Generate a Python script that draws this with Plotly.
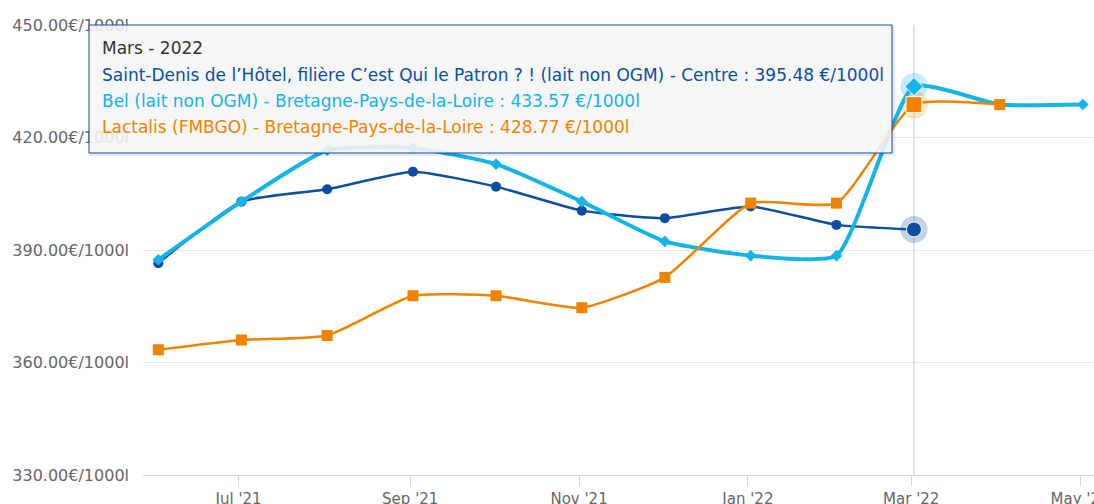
import plotly.graph_objects as go

# ---- data ----
dates = ["2021-06-02", "2021-07-02", "2021-08-02", "2021-09-02", "2021-10-02", "2021-11-02",
         "2021-12-02", "2022-01-02", "2022-02-02", "2022-03-02", "2022-04-02", "2022-05-02"]
month_labels_fr = ["Juin", "Juillet", "Août", "Septembre", "Octobre", "Novembre",
                   "Décembre", "Janvier", "Février", "Mars", "Avril", "Mai"]
years = ["2021"] * 7 + ["2022"] * 5

name_sd = "Saint-Denis de l’Hôtel, filière C’est Qui le Patron ? ! (lait non OGM) - Centre"
name_bel = "Bel (lait non OGM) - Bretagne-Pays-de-la-Loire"
name_lac = "Lactalis (FMBGO) - Bretagne-Pays-de-la-Loire"

vals_sd = [386.5, 402.9, 406.2, 410.9, 406.9, 400.5, 398.5, 401.6, 396.7, 395.48]
vals_bel = [387.4, 402.9, 416.6, 417.2, 412.9, 402.9, 392.3, 388.5, 388.5, 433.57, 428.8, 428.8]
vals_lac = [363.4, 366.0, 367.2, 377.8, 377.8, 374.6, 382.7, 402.5, 402.5, 428.77, 428.77]

y_ticks = [330, 360, 390, 420, 450]
y_ticktext = [f"{v:.2f}€/1000l" for v in y_ticks]
x_tickvals = ["2021-07-01", "2021-09-01", "2021-11-01", "2022-01-01", "2022-03-01", "2022-05-01"]
x_ticktext = ["Jul '21", "Sep '21", "Nov '21", "Jan '22", "Mar '22", "May '22"]

hover_idx = 9  # Mars 2022

# ---- style ----
C_SD = "#0b4ea2"
C_BEL = "#12b4ea"
C_LAC = "#f08300"
FONT = "DejaVu Sans"
SMOOTH = 0.5

W, H = 1094, 504
ML, MR, MT, MB = 143, 0, 25, 29
PW, PH = W - ML - MR, H - MT - MB


def px_x(p):
    return (p - ML) / PW


def px_y(p):
    return (H - MB - p) / PH


fig = go.Figure()

# halos for hovered points (drawn behind lines)
fig.add_trace(go.Scatter(x=[dates[hover_idx]], y=[vals_sd[hover_idx]], mode="markers",
                         marker=dict(size=27, color=C_SD, opacity=0.25), hoverinfo="skip", showlegend=False))
fig.add_trace(go.Scatter(x=[dates[hover_idx]], y=[vals_bel[hover_idx]], mode="markers",
                         marker=dict(size=27, color=C_BEL, opacity=0.25), hoverinfo="skip", showlegend=False))
fig.add_trace(go.Scatter(x=[dates[hover_idx]], y=[vals_lac[hover_idx]], mode="markers",
                         marker=dict(size=28, color=C_LAC, opacity=0.22), hoverinfo="skip", showlegend=False))

fig.add_trace(go.Scatter(x=dates[:len(vals_sd)], y=vals_sd, name=name_sd, mode="lines+markers",
                         line=dict(color=C_SD, width=2.5, shape="spline", smoothing=SMOOTH),
                         marker=dict(symbol="circle", size=10, color=C_SD), showlegend=False))
fig.add_trace(go.Scatter(x=dates[:len(vals_bel)], y=vals_bel, name=name_bel, mode="lines+markers",
                         line=dict(color=C_BEL, width=4, shape="spline", smoothing=SMOOTH),
                         marker=dict(symbol="diamond", size=9, color=C_BEL), showlegend=False))
fig.add_trace(go.Scatter(x=dates[:len(vals_lac)], y=vals_lac, name=name_lac, mode="lines+markers",
                         line=dict(color=C_LAC, width=2.5, shape="spline", smoothing=SMOOTH),
                         marker=dict(symbol="square", size=11, color=C_LAC), showlegend=False))

# enlarged hovered markers
fig.add_trace(go.Scatter(x=[dates[hover_idx]], y=[vals_sd[hover_idx]], mode="markers",
                         marker=dict(size=15, color=C_SD, line=dict(color="white", width=1)),
                         hoverinfo="skip", showlegend=False))
fig.add_trace(go.Scatter(x=[dates[hover_idx]], y=[vals_bel[hover_idx]], mode="markers",
                         marker=dict(symbol="diamond", size=14, color=C_BEL, line=dict(color="white", width=1)),
                         hoverinfo="skip", showlegend=False))
fig.add_trace(go.Scatter(x=[dates[hover_idx]], y=[vals_lac[hover_idx]], mode="markers",
                         marker=dict(symbol="square", size=16, color=C_LAC, line=dict(color="white", width=1)),
                         hoverinfo="skip", showlegend=False))

shapes = [
    # crosshair
    dict(type="line", xref="x", yref="paper", x0=dates[hover_idx], x1=dates[hover_idx], y0=0, y1=1,
         line=dict(color="#cccccc", width=1), layer="below"),
    # tooltip shadow
    dict(type="rect", xref="paper", yref="paper", x0=px_x(91), x1=px_x(895), y0=px_y(156), y1=px_y(27),
         fillcolor="rgba(0,0,0,0.08)", line=dict(width=0), layer="above"),
    # tooltip box
    dict(type="rect", xref="paper", yref="paper", x0=px_x(89), x1=px_x(892), y0=px_y(153), y1=px_y(25),
         fillcolor="rgba(247,247,247,0.88)", line=dict(color=C_SD, width=1), layer="above"),
]

tip_lines = [
    (f"{month_labels_fr[hover_idx]} - {years[hover_idx]}", "#333333", 48),
    (f"{name_sd} : {vals_sd[hover_idx]:.2f} €/1000l", C_SD, 75),
    (f"{name_bel} : {vals_bel[hover_idx]:.2f} €/1000l", C_BEL, 101),
    (f"{name_lac} : {vals_lac[hover_idx]:.2f} €/1000l", C_LAC, 127),
]
annotations = [
    dict(xref="paper", yref="paper", x=px_x(100), y=px_y(yp), xanchor="left", yanchor="middle",
         text=t, showarrow=False, font=dict(family=FONT, size=17, color=c))
    for t, c, yp in tip_lines
]

fig.update_layout(
    width=W, height=H,
    margin=dict(l=ML, r=MR, t=MT, b=MB, pad=0, autoexpand=False),
    paper_bgcolor="white", plot_bgcolor="white",
    font=dict(family=FONT, size=15, color="#666666"),
    shapes=shapes, annotations=annotations,
    xaxis=dict(type="date", range=["2021-05-27 11:00", "2022-05-06 01:00"],
               tickvals=x_tickvals, ticktext=x_ticktext, automargin=False,
               ticklabeloverflow="allow",
               showgrid=False, zeroline=False,
               showline=True, linecolor="#ccd6eb", linewidth=1,
               ticks="outside", ticklen=10, tickcolor="#ccd6eb", tickwidth=1,
               tickfont=dict(family=FONT, size=15, color="#666666")),
    yaxis=dict(range=[330, 450], tickvals=y_ticks, ticktext=y_ticktext, automargin=False,
               ticklabeloverflow="allow",
               showgrid=True, gridcolor="#e6e6e6", gridwidth=1, zeroline=False,
               showline=False, ticks="", ticklabelstandoff=13,
               tickfont=dict(family=FONT, size=16, color="#666666")),
    hovermode=False,
)

fig.write_html("out.html", config={"displayModeBar": False},
               post_script="document.body.style.margin='0';document.body.style.overflow='hidden';")
